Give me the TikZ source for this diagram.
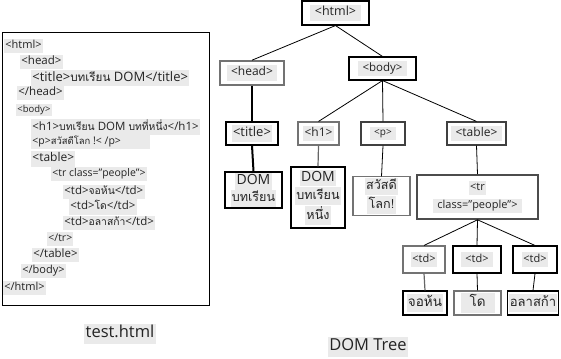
\documentclass[tikz,border=0pt]{standalone}
\usepackage{fontspec}
\setmainfont{Open Sans}
\newfontfamily\thai[Script=Thai,Scale=0.9]{Loma}
\definecolor{hl}{RGB}{234,234,234}
\definecolor{txt}{RGB}{35,35,35}
\newcommand{\hlt}[1]{{\setlength{\fboxsep}{1.2pt}\colorbox{hl}{\strut #1}}}
\newcommand{\T}[1]{{\thai #1}}
\newcommand{\fs}[1]{\fontsize{#1}{#1}\selectfont}
\tikzset{
  codeline/.style={anchor=west, inner sep=0pt, text=txt},
  tbox/.style={draw=black, fill=white, line width=1.1pt, inner sep=1pt, align=center, text=txt},
  gbox/.style={tbox, draw=black!55},
  link/.style={draw=black, line width=0.8pt},
  thick link/.style={draw=black, line width=2pt},
}
\begin{document}
\begin{tikzpicture}[x=1pt,y=-1pt]
\useasboundingbox (0,0) rectangle (561,358);
% left code box
\node[draw=black, line width=1pt, minimum width=207pt, minimum height=273pt, anchor=north west, inner sep=0] (codebox) at (2,32) {};
\node[codeline, font=\fs{11}] (c1) at (4,46) {\hlt{<html>}};
\node[codeline, font=\fs{11.5}] (c2) at (20,62) {\hlt{<head>}};
\node[codeline, font=\fs{13}] (c3) at (31,78) {\hlt{<title>\T{บทเรียน} DOM</title>}};
\node[codeline, font=\fs{11.5}] (c4) at (17,93) {\hlt{</head>}};
\node[codeline, font=\fs{9.5}] (c5) at (16,110) {\hlt{<body>}};
\node[codeline, font=\fs{11.5}] (c6) at (31,127) {\hlt{<h1>\T{บทเรียน} DOM \T{บทที่หนึ่ง}</h1>}};
\node[codeline, font=\fs{10.5}] (c7) at (31,142) {\hlt{<p>\T{สวัสดีโลก} !< /p>\hspace{28pt}}};
\node[codeline, font=\fs{12}] (c8) at (31,159) {\hlt{<table>}};
\node[codeline, font=\fs{10.5}] (c9) at (51,174) {\hlt{<tr class="people">}};
\node[codeline, font=\fs{11.5}] (c10) at (63,192) {\hlt{<td>\T{จอห้น}</td>}};
\node[codeline, font=\fs{11.5}] (c11) at (69,207) {\hlt{<td>\T{โด}</td>}};
\node[codeline, font=\fs{11.5}] (c12) at (63,223) {\hlt{<td>\T{อลาสก้า}</td>}};
\node[codeline, font=\fs{10.5}] (c13) at (47,239) {\hlt{</tr>}};
\node[codeline, font=\fs{11.5}] (c14) at (32,255) {\hlt{</table>}};
\node[codeline, font=\fs{11}] (c15) at (21,271) {\hlt{</body>}};
\node[codeline, font=\fs{11}] (c16) at (3,288) {\hlt{</html>}};
% captions
\node[inner sep=0, font=\fs{16.5}, text=txt] (cap1) at (120,334) {\hlt{test.html}};
\node[inner sep=0, font=\fs{16.5}, text=txt] (cap2) at (368,347) {\hlt{DOM Tree}};
% tree nodes
\node[tbox, minimum width=67pt, minimum height=24pt, font=\fs{12.5}] (html) at (335.5,13) {\hlt{\ <html>\ }};
\node[gbox, line width=1.6pt, minimum width=64pt, minimum height=24pt, font=\fs{12}] (head) at (252,73) {\hlt{\ <head>\ }};
\node[tbox, minimum width=67pt, minimum height=23pt, font=\fs{11.5}] (body) at (382.5,68.5) {\hlt{\ <body>\ }};
\node[tbox, minimum width=52pt, minimum height=23pt, font=\fs{13}] (title) at (252,133.5) {\hlt{<title>}};
\node[gbox, minimum width=41pt, minimum height=23pt, font=\fs{12}] (h1) at (318.5,133.5) {\hlt{<h1>}};
\node[tbox, draw=black!75, minimum width=44pt, minimum height=23pt, font=\fs{10}] (p) at (383,133.5) {\hlt{\ <p>\ }};
\node[tbox, draw=black!75, minimum width=59pt, minimum height=23pt, font=\fs{12}] (table) at (476.5,133.5) {\hlt{\ <table>\ }};
\node[tbox, line width=1.4pt, minimum width=57pt, minimum height=30pt, font=\fs{14}] (dom) at (253.5,190) {\hlt{DOM}\\[-1pt]\hlt{\T{บทเรียน}}};
\node[tbox, minimum width=54pt, minimum height=61pt, font=\fs{14}] (h1c) at (318,197.5) {\hlt{DOM}\\[0pt]\hlt{\T{บทเรียน}}\\[0pt]\hlt{\T{หนึ่ง}}};
\node[gbox, minimum width=57pt, minimum height=38pt, font=\fs{14}] (pc) at (381.5,196) {\hlt{\T{สวัสดี}}\\[0pt]\hlt{\T{โลก!}}};
\node[tbox, draw=black!70, line width=1.6pt, minimum width=121pt, minimum height=44pt, font=\fs{11}] (tr) at (477.5,197) {\hlt{<tr}\\[3pt]\hlt{\ class="people">\ }};
\node[gbox, minimum width=42pt, minimum height=27pt, font=\fs{11}] (td1) at (424,259.5) {\hlt{<td>}};
\node[tbox, minimum width=48pt, minimum height=27pt, font=\fs{11}] (td2) at (477,259.5) {\hlt{\ <td>\ }};
\node[tbox, minimum width=44pt, minimum height=27pt, font=\fs{11}] (td3) at (535,259.5) {\hlt{<td>}};
\node[tbox, minimum width=44pt, minimum height=24pt, font=\fs{15}] (l1) at (425,303) {\hlt{\T{จอห้น}}};
\node[gbox, minimum width=47pt, minimum height=24pt, font=\fs{15}] (l2) at (477.5,303) {\hlt{\ \ \T{โด}\ \ }};
\node[tbox, minimum width=48pt, minimum height=24pt, font=\fs{14.5}] (l3) at (533,303) {\hlt{\T{อลาสก้า}}};
% connectors
\draw[link] (html.south) -- (head.north);
\draw[link] (html.south) -- (body.north);
\draw[thick link] (head.south) -- (title.north);
\draw[link] (body.south) -- (h1.north);
\draw[link] (body.south) -- (p.north);
\draw[link] (body.south) -- (table.north);
\draw[thick link] (title.south) -- (dom.north);
\draw[link, draw=black!60, line width=1.2pt] (h1.south) -- (h1c.north);
\draw[link] (p.south) -- (pc.north);
\draw[link] (table.south) -- (tr.north);
\draw[link] (tr.south) -- (td1.north);
\draw[link] (tr.south) -- (td2.north);
\draw[link] (tr.south) -- (td3.north);
\draw[link, draw=black!60, line width=1.2pt] (td1.south) -- (l1.north);
\draw[link] (td2.south) -- (l2.north);
\draw[link] (td3.south) -- (l3.north);
\end{tikzpicture}
\end{document}
